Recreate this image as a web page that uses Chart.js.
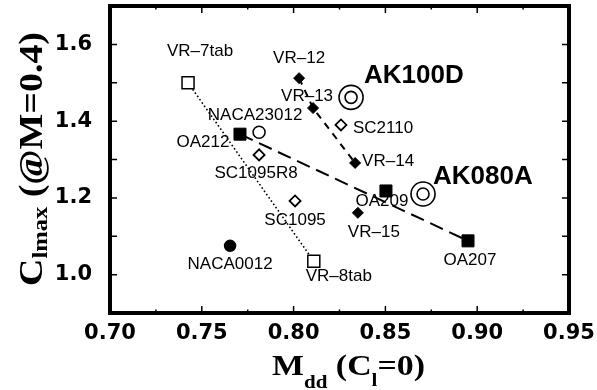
<!DOCTYPE html>
<html>
<head>
<meta charset="utf-8">
<script src="https://cdn.jsdelivr.net/npm/chart.js@4"></script>
<style>
  html, body { margin: 0; padding: 0; background: #fff; }
  canvas { display: block; }
</style>
</head>
<body>
<canvas id="airfoils" width="597" height="390"></canvas>
<script>
// Mdd (Cl=0) against Clmax (@M=0.4) for each airfoil family
const vrTabNames = ["VR\u20137tab", "VR\u20138tab"];
const vrTabMdd = [0.7425, 0.811];
const vrTabClmax = [1.50, 1.035];

const vrNames = ["VR\u201312", "VR\u201313", "VR\u201314", "VR\u201315"];
const vrMdd = [0.803, 0.8106, 0.8335, 0.835];
const vrClmax = [1.512, 1.434, 1.291, 1.161];

const oaNames = ["OA212", "OA209", "OA207"];
const oaMdd = [0.7708, 0.8503, 0.895];
const oaClmax = [1.366, 1.218, 1.088];

const scNames = ["SC1095R8", "SC1095", "SC2110"];
const scMdd = [0.7812, 0.8008, 0.8258];
const scClmax = [1.312, 1.192, 1.390];

const nacaNames = ["NACA23012", "NACA0012"];
const nacaMdd = [0.7812, 0.7654];
const nacaClmax = [1.371, 1.075];

const akNames = ["AK100D", "AK080A"];
const akMdd = [0.8313, 0.8705];
const akClmax = [1.462, 1.210];

const xTickValues = [0.70, 0.75, 0.80, 0.85, 0.90, 0.95];
const yTickValues = [1.0, 1.2, 1.4, 1.6];

const pts = (xs, ys) => xs.map((x, i) => ({ x, y: ys[i] }));

// label placement around each marker: offset from the point, text alignment
const labelPos = {
  "VR\u20137tab": [12, -31, "center"],
  "VR\u20138tab": [25, 15, "center"],
  "VR\u201312": [0, -20, "center"],
  "VR\u201313": [-6, -12, "center"],
  "VR\u201314": [7, -2, "left"],
  "VR\u201315": [16, 19, "center"],
  "OA212": [-37, 8, "center"],
  "OA209": [-4, 10, "center"],
  "OA207": [2, 19, "center"],
  "SC1095R8": [-3, 18, "center"],
  "SC1095": [0, 19, "center"],
  "SC2110": [12, 3, "left"],
  "NACA23012": [-4, -17, "center"],
  "NACA0012": [0, 18, "center"],
  "AK100D": [13, -22, "left"],
  "AK080A": [10, -17, "left"]
};
const bigLabels = ["AK100D", "AK080A"];

const labelPlugin = {
  id: "pointLabels",
  afterDatasetsDraw(chart) {
    const ctx = chart.ctx;
    ctx.save();
    ctx.fillStyle = "#000";
    ctx.textBaseline = "middle";
    chart.data.datasets.forEach((ds, di) => {
      if (!ds.names) return;
      const meta = chart.getDatasetMeta(di);
      meta.data.forEach((el, i) => {
        const name = ds.names[i];
        const p = labelPos[name];
        if (!p) return;
        ctx.font = bigLabels.includes(name)
          ? "bold 26px 'Liberation Sans', Arial, sans-serif"
          : "17px 'Liberation Sans', Arial, sans-serif";
        ctx.textAlign = p[2];
        ctx.fillText(name, el.x + p[0], el.y + p[1]);
      });
    });
    ctx.restore();
  }
};

// heavy frame with inward ticks on all four sides
const framePlugin = {
  id: "frame",
  afterDraw(chart) {
    const { ctx, chartArea: a, scales } = chart;
    const xs = scales.x, ys = scales.y;
    ctx.save();
    ctx.strokeStyle = "#000";
    ctx.lineWidth = 1.5;
    ctx.beginPath();
    for (let v = 0.70; v < 0.951; v += 0.025) {
      const px = xs.getPixelForValue(v);
      const major = Math.abs(Math.round(v / 0.05) * 0.05 - v) < 1e-6;
      const len = major ? 7 : 3.5;
      ctx.moveTo(px, a.bottom); ctx.lineTo(px, a.bottom - len);
      ctx.moveTo(px, a.top); ctx.lineTo(px, a.top + len);
    }
    for (let v = 1.0; v < 1.65; v += 0.1) {
      const py = ys.getPixelForValue(v);
      ctx.moveTo(a.left, py); ctx.lineTo(a.left + 7, py);
      ctx.moveTo(a.right, py); ctx.lineTo(a.right - 7, py);
    }
    ctx.stroke();
    ctx.lineWidth = 4;
    ctx.strokeRect(a.left, a.top, a.right - a.left, a.bottom - a.top);
    ctx.restore();
  }
};

// axis titles with subscripts, fitted to a given length
function drawRich(ctx, parts, length) {
  let w = 0;
  parts.forEach(p => { ctx.font = p.font; w += ctx.measureText(p.text).width; });
  ctx.scale(length / w, 1);
  let cx = 0;
  parts.forEach(p => {
    ctx.font = p.font;
    ctx.fillText(p.text, cx, p.dy || 0);
    cx += ctx.measureText(p.text).width;
  });
}

const titlePlugin = {
  id: "axisTitles",
  afterDraw(chart) {
    const ctx = chart.ctx;
    const serif = "'Liberation Serif', 'Times New Roman', serif";
    ctx.save();
    ctx.fillStyle = "#000";
    ctx.textAlign = "left";
    ctx.textBaseline = "alphabetic";
    ctx.translate(272, 375);
    drawRich(ctx, [
      { text: "M", font: "bold 29px " + serif },
      { text: "dd", font: "bold 18px " + serif, dy: 13 },
      { text: " (C", font: "bold 29px " + serif },
      { text: "l", font: "bold 18px " + serif, dy: 11 },
      { text: "=0)", font: "bold 29px " + serif }
    ], 153);
    ctx.restore();

    ctx.save();
    ctx.fillStyle = "#000";
    ctx.textAlign = "left";
    ctx.textBaseline = "alphabetic";
    ctx.translate(42, 286);
    ctx.rotate(-Math.PI / 2);
    drawRich(ctx, [
      { text: "C", font: "bold 34px " + serif },
      { text: "lmax", font: "bold 22px " + serif, dy: 5 },
      { text: " (@M=0.4)", font: "bold 34px " + serif }
    ], 254);
    ctx.restore();
  }
};

const tickFont = { family: "'DejaVu Sans', sans-serif", size: 21, weight: "bold" };

new Chart(document.getElementById("airfoils"), {
  type: "scatter",
  data: {
    datasets: [
      {
        data: pts(vrTabMdd, vrTabClmax), showLine: true, pointRadius: 0,
        borderColor: "#000", borderWidth: 1.6, borderDash: [1.6, 2.4], order: 5
      },
      {
        data: pts(vrMdd.slice(0, 3), vrClmax.slice(0, 3)), showLine: true, pointRadius: 0,
        borderColor: "#000", borderWidth: 2, borderDash: [7, 6], order: 5
      },
      {
        data: pts([oaMdd[0], oaMdd[2]], [oaClmax[0], oaClmax[2]]), showLine: true, pointRadius: 0,
        borderColor: "#000", borderWidth: 2, borderDash: [14, 7], order: 5
      },
      {
        names: vrTabNames, data: pts(vrTabMdd, vrTabClmax), pointStyle: "rect",
        pointRadius: 8.5, pointBackgroundColor: "#fff", pointBorderColor: "#000", pointBorderWidth: 1.5
      },
      {
        names: vrNames, data: pts(vrMdd, vrClmax), pointStyle: "rectRot",
        pointRadius: 5.5, pointBackgroundColor: "#000", pointBorderColor: "#000", pointBorderWidth: 1
      },
      {
        names: oaNames, data: pts(oaMdd, oaClmax), pointStyle: "rect",
        pointRadius: 8.5, pointBackgroundColor: "#000", pointBorderColor: "#000", pointBorderWidth: 1
      },
      {
        names: scNames, data: pts(scMdd, scClmax), pointStyle: "rectRot",
        pointRadius: 5.5, pointBackgroundColor: "#fff", pointBorderColor: "#000", pointBorderWidth: 1.8
      },
      {
        names: nacaNames, data: pts(nacaMdd, nacaClmax), pointStyle: "circle",
        pointRadius: [6, 5.5], pointBackgroundColor: ["#fff", "#000"], pointBorderColor: "#000", pointBorderWidth: 1.5
      },
      {
        names: akNames, data: pts(akMdd, akClmax), pointStyle: "circle",
        pointRadius: 12, pointBackgroundColor: "rgba(0,0,0,0)", pointBorderColor: "#000", pointBorderWidth: 1.6
      },
      {
        data: pts(akMdd, akClmax), pointStyle: "circle",
        pointRadius: 6, pointBackgroundColor: "rgba(0,0,0,0)", pointBorderColor: "#000", pointBorderWidth: 1.6
      }
    ]
  },
  options: {
    responsive: false,
    animation: false,
    devicePixelRatio: 1,
    layout: { autoPadding: false, padding: { top: 6, right: 28, left: 0, bottom: 0 } },
    plugins: { legend: { display: false }, tooltip: { enabled: false } },
    scales: {
      x: {
        type: "linear", position: "bottom", min: 0.70, max: 0.95,
        grid: { display: false, drawTicks: false },
        border: { display: false },
        afterBuildTicks: s => { s.ticks = xTickValues.map(value => ({ value })); },
        afterFit: s => { s.height = 77; s.paddingLeft = 0; s.paddingRight = 0; },
        ticks: {
          font: tickFont, color: "#000", padding: 8, autoSkip: false, maxRotation: 0,
          callback: v => v.toFixed(2)
        }
      },
      y: {
        type: "linear", min: 0.9, max: 1.7,
        grid: { display: false, drawTicks: false },
        border: { display: false },
        afterBuildTicks: s => { s.ticks = yTickValues.map(value => ({ value })); },
        afterFit: s => { s.width = 110; s.paddingTop = 0; s.paddingBottom = 0; },
        ticks: {
          font: tickFont, color: "#000", padding: 18, autoSkip: false,
          callback: v => v.toFixed(1)
        }
      }
    }
  },
  plugins: [labelPlugin, framePlugin, titlePlugin]
});
</script>
</body>
</html>
